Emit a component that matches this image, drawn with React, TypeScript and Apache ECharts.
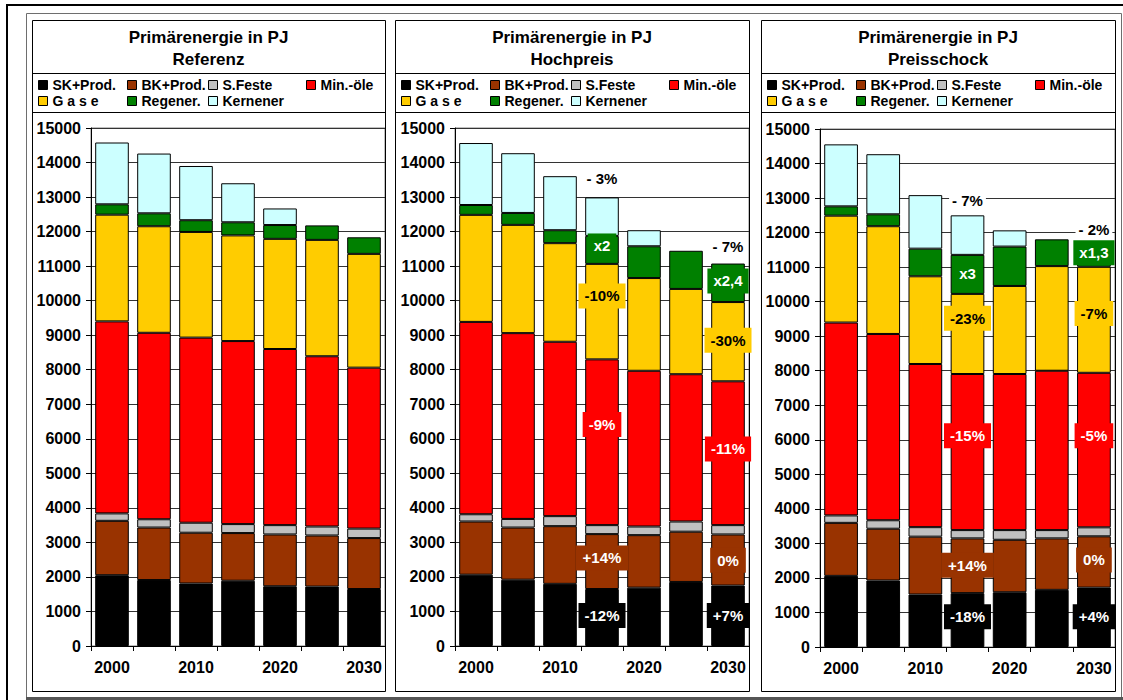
import React, { useEffect, useRef } from "react";
import * as echarts from "echarts";

const years = ["2000", "2005", "2010", "2015", "2020", "2025", "2030"];
const seriesNames = ["SK+Prod.", "BK+Prod.", "S.Feste", "Min.-öle", "G a s e", "Regener.", "Kernener"];
const scenarioNames = ["Referenz", "Hochpreis", "Preisschock"];
const chartTitle = "Primärenergie in PJ";

// Referenz
const refSK = [2050, 1910, 1810, 1890, 1730, 1720, 1650];
const refBK = [1575, 1520, 1470, 1380, 1500, 1480, 1475];
const refSF = [215, 240, 290, 260, 270, 260, 275];
const refOil = [5560, 5400, 5360, 5300, 5100, 4930, 4660];
const refGas = [3090, 3085, 3060, 3060, 3190, 3370, 3295];
const refReg = [300, 375, 340, 380, 400, 420, 480];
const refKern = [1790, 1730, 1570, 1130, 480, null, null];

// Hochpreis
const hochSK = [2065, 1920, 1800, 1650, 1690, 1855, 1750];
const hochBK = [1540, 1510, 1670, 1590, 1520, 1455, 1480];
const hochSF = [210, 250, 290, 260, 250, 295, 270];
const hochOil = [5570, 5380, 5050, 4800, 4510, 4265, 4165];
const hochGas = [3100, 3135, 2855, 2765, 2685, 2470, 2295];
const hochReg = [285, 345, 375, 810, 920, 1105, 1115];
const hochKern = [1795, 1730, 1565, 1115, 465, null, null];

// Preisschock
const psSK = [2060, 1925, 1520, 1560, 1585, 1655, 1720];
const psBK = [1535, 1500, 1675, 1585, 1520, 1490, 1485];
const psSF = [215, 245, 275, 240, 280, 240, 260];
const psOil = [5585, 5395, 4725, 4520, 4520, 4615, 4475];
const psGas = [3095, 3120, 2540, 2320, 2550, 3030, 3070];
const psReg = [270, 345, 800, 1130, 1140, 775, 600];
const psKern = [1795, 1740, 1550, 1145, 470, null, null];

// annotations: year, value, text, kind
const refNotes: any[] = [];
const hochNotes = [
  { year: "2015", value: 13536, text: "- 3%", kind: "plain" },
  { year: "2015", value: 11584, text: "x2", kind: "reg" },
  { year: "2015", value: 10136, text: "-10%", kind: "gas" },
  { year: "2015", value: 6412, text: "-9%", kind: "oil" },
  { year: "2015", value: 2549, text: "+14%", kind: "bk" },
  { year: "2015", value: 880, text: "-12%", kind: "sk" },
  { year: "2030", value: 11555, text: "- 7%", kind: "plain" },
  { year: "2030", value: 10571, text: "x2,4", kind: "reg" },
  { year: "2030", value: 8853, text: "-30%", kind: "gas" },
  { year: "2030", value: 5705, text: "-11%", kind: "oil" },
  { year: "2030", value: 2482, text: "0%", kind: "bk" },
  { year: "2030", value: 880, text: "+7%", kind: "sk" },
];
const psNotes = [
  { year: "2015", value: 12930, text: "- 7%", kind: "plain" },
  { year: "2015", value: 10810, text: "x3", kind: "reg" },
  { year: "2015", value: 9520, text: "-23%", kind: "gas" },
  { year: "2015", value: 6120, text: "-15%", kind: "oil" },
  { year: "2015", value: 2370, text: "+14%", kind: "bk" },
  { year: "2015", value: 875, text: "-18%", kind: "sk" },
  { year: "2030", value: 12100, text: "- 2%", kind: "plain" },
  { year: "2030", value: 11420, text: "x1,3", kind: "reg" },
  { year: "2030", value: 9660, text: "-7%", kind: "gas" },
  { year: "2030", value: 6120, text: "-5%", kind: "oil" },
  { year: "2030", value: 2520, text: "0%", kind: "bk" },
  { year: "2030", value: 875, text: "+4%", kind: "sk" },
];

const FONT = "'Liberation Sans', Arial, Helvetica, sans-serif";
const COLORS = ["#000000", "#993300", "#C0C0C0", "#FF0000", "#FFCC00", "#008000", "#CCFFFF"];

const NOTE_STYLE: Record<string, any> = {
  plain: { color: "#000", backgroundColor: "#fff", padding: [1, 3] },
  reg: { color: "#fff", backgroundColor: "#008000", padding: [5, 6] },
  gas: { color: "#000", backgroundColor: "#FFCC00", padding: [5, 6] },
  oil: { color: "#fff", backgroundColor: "#FF0000", padding: [5, 6] },
  bk: { color: "#fff", backgroundColor: "#993300", padding: [5, 7] },
  sk: { color: "#fff", backgroundColor: "#000000", padding: [5, 6] },
};

function buildOption() {
  const panels = [
    { frameL: 32, frameR: 385, gridL: 91, gridW: 294, gridT: 128, data: [refSK, refBK, refSF, refOil, refGas, refReg, refKern], notes: refNotes },
    { frameL: 395, frameR: 749, gridL: 455, gridW: 294, gridT: 128, data: [hochSK, hochBK, hochSF, hochOil, hochGas, hochReg, hochKern], notes: hochNotes },
    { frameL: 761, frameR: 1115, gridL: 820, gridW: 295, gridT: 129, data: [psSK, psBK, psSF, psOil, psGas, psReg, psKern], notes: psNotes },
  ];
  const grid: any[] = [];
  const xAxis: any[] = [];
  const yAxis: any[] = [];
  const series: any[] = [];
  const legend: any[] = [];
  const graphic: any[] = [
    { type: "rect", shape: { x: 7, y: 5, width: 1140, height: 720 }, style: { fill: "none", stroke: "#000", lineWidth: 2 }, silent: true },
    { type: "rect", shape: { x: 26.5, y: 13.5, width: 1095, height: 684 }, style: { fill: "none", stroke: "#6e6e6e", lineWidth: 1 }, silent: true },
    { type: "line", shape: { x1: 26, y1: 698.5, x2: 1123, y2: 698.5 }, style: { stroke: "#555", lineWidth: 3 }, silent: true },
  ];

  const legendCols = [6, 95, 176, 274];
  const legendRows = [78, 94];

  panels.forEach((p, i) => {
    graphic.push(
      { type: "rect", shape: { x: p.frameL + 0.5, y: 20.5, width: p.frameR - p.frameL, height: 671 }, style: { fill: "none", stroke: "#000", lineWidth: 1 }, silent: true },
      { type: "line", shape: { x1: p.frameL, y1: 73.5, x2: p.frameR, y2: 73.5 }, style: { stroke: "#000", lineWidth: 1 }, silent: true },
      { type: "line", shape: { x1: p.frameL, y1: 112.5, x2: p.frameR, y2: 112.5 }, style: { stroke: "#000", lineWidth: 1 }, silent: true },
      { type: "text", x: (p.frameL + p.frameR) / 2, y: 37, style: { text: chartTitle, fill: "#000", fontSize: 17, fontWeight: "bold", fontFamily: FONT, align: "center", verticalAlign: "middle" }, silent: true },
      { type: "text", x: (p.frameL + p.frameR) / 2, y: 59, style: { text: scenarioNames[i], fill: "#000", fontSize: 17, fontWeight: "bold", fontFamily: FONT, align: "center", verticalAlign: "middle" }, silent: true }
    );

    grid.push({ left: p.gridL, top: p.gridT, width: p.gridW, height: 518, show: true, borderColor: "#808080", borderWidth: 1, backgroundColor: "transparent" });
    xAxis.push({
      type: "category", gridIndex: i, data: years,
      axisLine: { show: true, lineStyle: { color: "#000", width: 1 } },
      axisTick: { show: true, interval: 0, alignWithLabel: false, length: 5, lineStyle: { color: "#000" } },
      axisLabel: { interval: 1, margin: 13, color: "#000", fontSize: 16, fontWeight: "bold", fontFamily: FONT },
      splitLine: { show: false },
    });
    yAxis.push({
      type: "value", gridIndex: i, min: 0, max: 15000, interval: 1000,
      axisLine: { show: true, lineStyle: { color: "#000", width: 1 } },
      axisTick: { show: true, length: 5, lineStyle: { color: "#000" } },
      axisLabel: { margin: 10, color: "#000", fontSize: 16, fontWeight: "bold", fontFamily: FONT, formatter: (v: number) => String(v) },
      splitLine: { show: true, lineStyle: { color: "#333", width: 1 } },
    });
    seriesNames.forEach((n, k) => {
      series.push({
        type: "bar", name: n, xAxisIndex: i, yAxisIndex: i, stack: "s" + i,
        data: p.data[k], barCategoryGap: "20%",
        itemStyle: { color: COLORS[k], borderColor: "#000", borderWidth: 1 },
        emphasis: { disabled: true }, silent: true,
      });
      const col = k < 4 ? k : k - 4;
      const row = k < 4 ? 0 : 1;
      legend.push({
        data: [n], left: p.frameL + legendCols[col], top: legendRows[row],
        orient: "horizontal", padding: 0, itemWidth: 9, itemHeight: 9, itemGap: 0,
        icon: "rect", selectedMode: false,
        itemStyle: { borderColor: "#000", borderWidth: 1 },
        textStyle: { fontSize: 14, fontWeight: "bold", color: "#000", fontFamily: FONT },
      });
    });
    if (p.notes.length) {
      series.push({
        type: "scatter", name: "notes" + i, xAxisIndex: i, yAxisIndex: i,
        symbolSize: 1, itemStyle: { color: "rgba(0,0,0,0)", opacity: 1 }, silent: true, z: 10,
        emphasis: { disabled: true },
        data: p.notes.map((n: any) => ({
          value: [n.year, n.value],
          label: {
            show: true, position: "inside", formatter: n.text,
            fontSize: 15, fontWeight: "bold", fontFamily: FONT,
            ...NOTE_STYLE[n.kind],
          },
        })),
      });
    }
  });

  return {
    animation: false,
    backgroundColor: "#fff",
    textStyle: { fontFamily: FONT },
    grid, xAxis, yAxis, series, legend, graphic,
  };
}

export default function App() {
  const ref = useRef<HTMLDivElement>(null);
  useEffect(() => {
    if (!ref.current) return;
    const chart = echarts.init(ref.current, undefined, { renderer: "svg" });
    chart.setOption(buildOption() as any);
    return () => chart.dispose();
  }, []);
  return <div ref={ref} style={{ position: "fixed", left: 0, top: 0, width: 1123, height: 700, background: "#fff" }} />;
}
